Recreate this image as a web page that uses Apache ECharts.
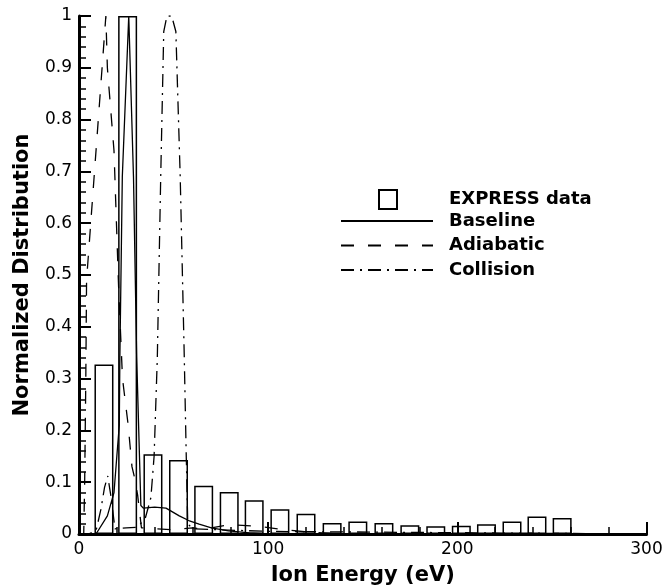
<!DOCTYPE html>
<html>
<head>
<meta charset="utf-8">
<script src="https://cdn.jsdelivr.net/npm/echarts@6/dist/echarts.min.js"></script>
<style>
html,body{margin:0;padding:0;background:#fff;}
#chart{width:663px;height:586px;}
</style>
</head>
<body>
<div id="chart"></div>
<script>
// EXPRESS data histogram (bin centres in eV, normalized heights)
const expressEnergy = [13.2, 25.7, 39.1, 52.6, 65.9, 79.4, 92.6, 106.2, 120, 133.8, 147.4, 161.2, 174.9, 188.6, 202.1, 215.4, 228.9, 242.1, 255.4];
const expressValue  = [0.327, 1.0, 0.154, 0.143, 0.093, 0.081, 0.065, 0.048, 0.039, 0.021, 0.024, 0.021, 0.017, 0.015, 0.016, 0.019, 0.024, 0.034, 0.031];

// Baseline model
const baselineEnergy = [0, 9, 15, 18.5, 20, 21.3, 21.6, 22.9, 26.3, 28.8, 30.5, 32.7, 34, 40, 46, 53, 58, 63.5, 70, 79, 90, 100, 300];
const baselineValue  = [0, 0, 0.035, 0.08, 0.15, 0.21, 0.34, 0.69, 1.0, 0.69, 0.34, 0.055, 0.05, 0.052, 0.05, 0.035, 0.026, 0.019, 0.012, 0.006, 0.002, 0, 0];

// Adiabatic model
const adiabaticEnergy = [0, 2.5, 3, 3.6, 4, 14.2, 15, 18.5, 21, 23, 26, 28, 29.3, 31, 33, 40, 50, 60, 65, 70, 80, 95, 105, 120, 140, 300];
const adiabaticValue  = [0, 0, 0.1, 0.3, 0.49, 1.0, 0.9, 0.74, 0.47, 0.3, 0.21, 0.13, 0.11, 0.075, 0.012, 0.01, 0.008, 0.012, 0.01, 0.012, 0.018, 0.015, 0.01, 0.004, 0, 0];

// Collision model
const collisionEnergy = [0, 5, 9, 11.6, 13.5, 15.2, 17, 19, 25, 31, 35, 38, 39.7, 41.4, 43.2, 44.8, 46.5, 49, 51.2, 53.5, 55.6, 56.7, 57.5, 60, 100, 300];
const collisionValue  = [0, 0, 0.006, 0.048, 0.09, 0.112, 0.07, 0.01, 0.012, 0.013, 0.03, 0.07, 0.15, 0.34, 0.69, 0.97, 1.0, 1.0, 0.97, 0.69, 0.35, 0.15, 0.02, 0.01, 0.005, 0];

const xTicks = [0, 100, 200, 300];
const yTicks = [0, 0.1, 0.2, 0.3, 0.4, 0.5, 0.6, 0.7, 0.8, 0.9, 1];

const zip = (xs, ys) => xs.map((x, i) => [x, ys[i]]);
const FONT = '"DejaVu Sans", Verdana, sans-serif';

const chart = echarts.init(document.getElementById('chart'), null, {renderer: 'canvas'});

const axisCommon = {
  axisLine: {show: true, lineStyle: {color: '#000', width: 3}},
  axisTick: {show: true, inside: true, length: 12, lineStyle: {color: '#000', width: 2}},
  minorTick: {show: true, splitNumber: 5, length: 7, lineStyle: {color: '#000', width: 1.5}},
  splitLine: {show: false},
  minorSplitLine: {show: false},
  axisLabel: {color: '#000', fontSize: 17, fontFamily: FONT},
  nameLocation: 'middle',
  nameTextStyle: {color: '#000', fontSize: 21, fontWeight: 'bold', fontFamily: FONT}
};

const lineSeries = (name, xs, ys, type) => ({
  name: name,
  type: 'line',
  data: zip(xs, ys),
  symbol: 'none',
  showSymbol: false,
  smooth: false,
  z: 3,
  lineStyle: {color: '#000', width: 1.3, type: type},
  itemStyle: {color: '#000'},
  animation: false
});

const legendText = {color: '#000', fontSize: 18, fontWeight: 'bold', fontFamily: FONT};

chart.setOption({
  backgroundColor: '#fff',
  animation: false,
  grid: {left: 79, right: 16.5, top: 16, bottom: 52, containLabel: false, outerBoundsMode: 'none'},
  legend: [
    {
      data: ['EXPRESS data'],
      left: 373, top: 184,
      icon: 'rect',
      itemWidth: 18, itemHeight: 19,
      selectedMode: false,
      textStyle: Object.assign({}, legendText, {padding: [0, 0, 0, 47]})
    },
    {
      data: ['Baseline', 'Adiabatic', 'Collision'],
      orient: 'vertical',
      left: 335, top: 207,
      itemWidth: 92, itemHeight: 14,
      itemGap: 6.5,
      selectedMode: false,
      itemStyle: {color: 'rgba(0,0,0,0)', borderColor: 'rgba(0,0,0,0)', borderWidth: 0},
      textStyle: Object.assign({}, legendText, {padding: [0, 0, 0, 11]})
    }
  ],
  xAxis: Object.assign({}, axisCommon, {
    type: 'value', min: xTicks[0], max: xTicks[xTicks.length - 1], interval: 100,
    name: 'Ion Energy (eV)', nameGap: 31,
    axisLabel: Object.assign({}, axisCommon.axisLabel, {margin: 7})
  }),
  yAxis: Object.assign({}, axisCommon, {
    type: 'value', min: yTicks[0], max: yTicks[yTicks.length - 1], interval: 0.1,
    name: 'Normalized Distribution', nameGap: 46,
    axisLabel: Object.assign({}, axisCommon.axisLabel, {
      margin: 7,
      formatter: v => (v === 0 ? '0' : (Math.abs(v - 1) < 1e-9 ? '1' : v.toFixed(1)))
    })
  }),
  series: [
    {
      name: 'EXPRESS data',
      type: 'bar',
      data: zip(expressEnergy, expressValue),
      barWidth: 19,
      z: 2,
      itemStyle: {color: 'rgba(255,255,255,0)', borderColor: '#000', borderWidth: 1.5},
      animation: false
    },
    lineSeries('Baseline', baselineEnergy, baselineValue, 'solid'),
    lineSeries('Adiabatic', adiabaticEnergy, adiabaticValue, [13, 14]),
    lineSeries('Collision', collisionEnergy, collisionValue, [13, 6, 2, 6])
  ]
});
</script>
</body>
</html>
